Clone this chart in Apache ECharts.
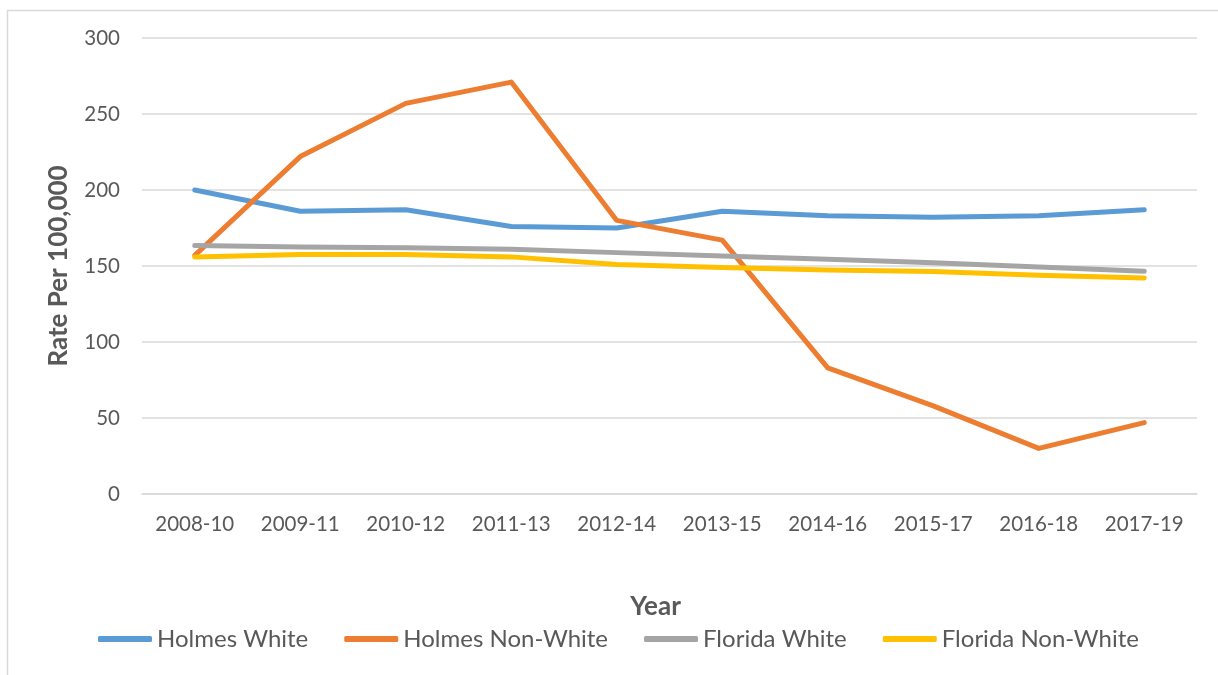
<!DOCTYPE html>
<html>
<head>
<meta charset="utf-8">
<script src="https://cdn.jsdelivr.net/npm/echarts@6/dist/echarts.min.js"></script>
<style>
  html, body { margin: 0; padding: 0; background: #ffffff; }
  #chart { width: 1218px; height: 675px; }
</style>
</head>
<body>
<div id="chart"></div>
<script>
// Three-year rolling periods
const years = ['2008-10', '2009-11', '2010-12', '2011-13', '2012-14', '2013-15', '2014-16', '2015-17', '2016-18', '2017-19'];

// Rates per 100,000
const holmesWhite    = [200, 186, 187, 176, 175, 186, 183, 182, 183, 187];
const holmesNonWhite = [157, 222, 257, 271, 180, 167, 83, 58, 30, 47];
const floridaWhite   = [163.5, 162.5, 162, 161, 158.8, 156.6, 154.4, 152.2, 149.3, 146.5];
const floridaNonWhite = [156, 157.6, 157.6, 156, 151, 149, 147.4, 146.3, 143.9, 142.1];

const yTicks = { min: 0, max: 300, interval: 50 };

const seriesDefs = [
  { name: 'Holmes White', data: holmesWhite, color: '#5b9bd5' },
  { name: 'Holmes Non-White', data: holmesNonWhite, color: '#ed7d31' },
  { name: 'Florida White', data: floridaWhite, color: '#a5a5a5' },
  { name: 'Florida Non-White', data: floridaNonWhite, color: '#ffc000' }
];

const font = 'Lato, "Open Sans", sans-serif';
const chart = echarts.init(document.getElementById('chart'), null, { renderer: 'canvas' });

chart.setOption({
  backgroundColor: '#ffffff',
  animation: false,
  graphic: [
    // chart frame (top and left edges)
    { type: 'polyline', shape: { points: [[7.5, 675], [7.5, 10.5], [1218, 10.5]] },
      style: { stroke: '#d9d9d9', lineWidth: 1.5, fill: null } }
  ],
  grid: { left: 142, right: 21, top: 38, bottom: 181, containLabel: false },
  legend: {
    top: 622,
    left: 93,
    itemWidth: 54,
    itemHeight: 6,
    itemGap: 36,
    icon: 'roundRect',
    textStyle: { fontFamily: font, fontSize: 24, color: '#595959', padding: [0, 0, 0, 0] },
    data: seriesDefs.map(s => s.name)
  },
  xAxis: {
    type: 'category',
    data: years,
    boundaryGap: true,
    name: 'Year',
    nameLocation: 'middle',
    nameGap: 100,
    nameTextStyle: { fontFamily: font, fontSize: 26, fontWeight: 'bold', color: '#595959', padding: [0, 28, 0, 0] },
    axisLine: { lineStyle: { color: '#d9d9d9', width: 1.5 } },
    axisTick: { show: false },
    axisLabel: { fontFamily: font, fontSize: 20.5, color: '#595959', margin: 20 }
  },
  yAxis: {
    type: 'value',
    min: yTicks.min,
    max: yTicks.max,
    interval: yTicks.interval,
    name: 'Rate Per 100,000',
    nameLocation: 'middle',
    nameGap: 70,
    nameRotate: 90,
    nameTextStyle: { fontFamily: font, fontSize: 26, fontWeight: 'bold', color: '#595959' },
    axisLine: { show: false },
    axisTick: { show: false },
    axisLabel: { fontFamily: font, fontSize: 20.5, color: '#595959', margin: 22 },
    splitLine: { lineStyle: { color: '#d9d9d9', width: 1.5 } }
  },
  series: seriesDefs.map(s => ({
    name: s.name,
    type: 'line',
    data: s.data,
    symbol: 'none',
    smooth: false,
    lineStyle: { color: s.color, width: 5, cap: 'round', join: 'round' },
    itemStyle: { color: s.color }
  }))
});
</script>
</body>
</html>
